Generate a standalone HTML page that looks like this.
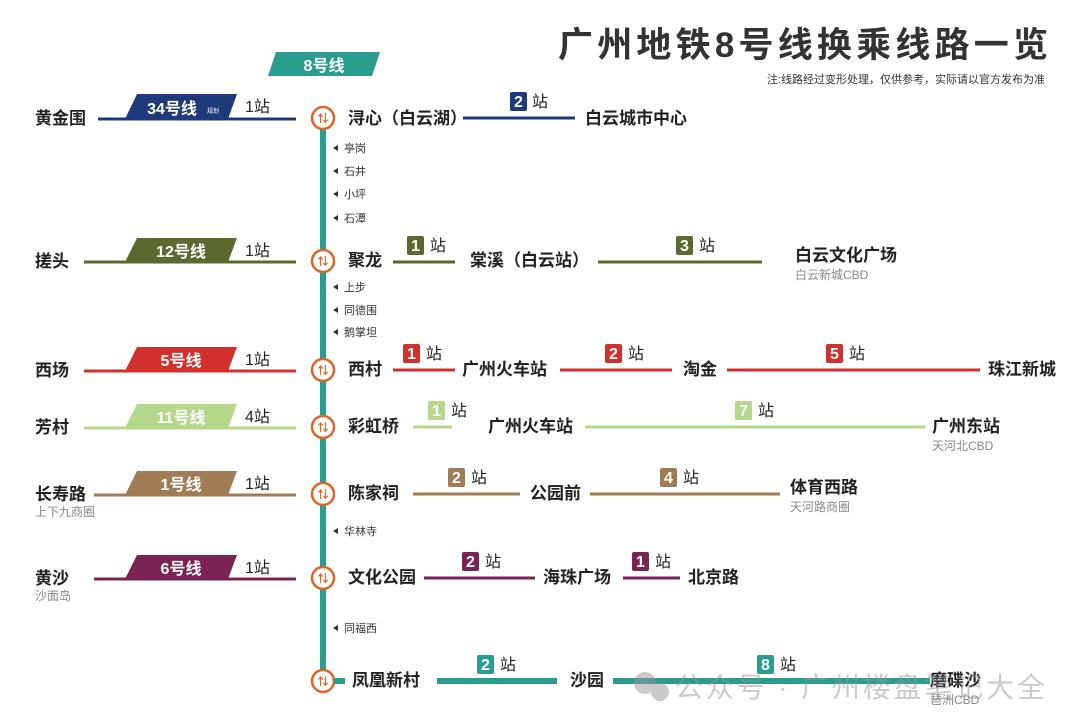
<!DOCTYPE html>
<html><head><meta charset="utf-8"><style>
html,body{margin:0;padding:0;background:#fff;}
svg{display:block;font-family:"Liberation Sans","Noto Sans CJK SC",sans-serif;}
.n{font-size:17px;font-weight:bold;fill:#222;}
.s{font-size:12px;fill:#888;}
.m{font-size:11px;fill:#333;}
.z{font-size:16px;fill:#222;}
.b{font-size:16px;font-weight:bold;fill:#fff;}
</style></head><body>
<svg width="1080" height="728" viewBox="0 0 1080 728" xmlns="http://www.w3.org/2000/svg">
<rect width="1080" height="728" fill="#fff"/>
<text x="558" y="57" font-size="35" font-weight="bold" fill="#333" textLength="490" lengthAdjust="spacing">广州地铁8号线换乘线路一览</text>
<text x="1045" y="83" font-size="11" fill="#333" text-anchor="end">注:线路经过变形处理，仅供参考，实际请以官方发布为准</text>
<polygon points="276,52 380,52 372,76 268,76" fill="#2a9d8f"/>
<text x="324" y="71" class="b" text-anchor="middle">8号线</text>
<rect x="320" y="120" width="6" height="560" fill="#2a9d8f"/>
<g class="m">
<path d="M338,145 l-5,3 l5,3z" fill="#333"/><text x="344" y="152">亭岗</text>
<path d="M338,168 l-5,3 l5,3z" fill="#333"/><text x="344" y="175">石井</text>
<path d="M338,191 l-5,3 l5,3z" fill="#333"/><text x="344" y="198">小坪</text>
<path d="M338,215 l-5,3 l5,3z" fill="#333"/><text x="344" y="222">石潭</text>
<path d="M338,284 l-5,3 l5,3z" fill="#333"/><text x="344" y="291">上步</text>
<path d="M338,307 l-5,3 l5,3z" fill="#333"/><text x="344" y="314">同德围</text>
<path d="M338,329 l-5,3 l5,3z" fill="#333"/><text x="344" y="336">鹅掌坦</text>
<path d="M338,528 l-5,3 l5,3z" fill="#333"/><text x="344" y="535">华林寺</text>
<path d="M338,625 l-5,3 l5,3z" fill="#333"/><text x="344" y="632">同福西</text>
</g>
<g>
<text x="35" y="124" class="n">黄金围</text>
<line x1="98" y1="119" x2="296" y2="119" stroke="#1f3a7a" stroke-width="3"/>
<polygon points="137,94 237,94 228,119 125,119" fill="#1f3a7a"/>
<text x="172" y="114" class="b" text-anchor="middle">34号线</text>
<text x="207" y="113" font-size="6" fill="#fff">规划</text>
<text x="245" y="112" class="z">1站</text>

<text x="35" y="267" class="n">搓头</text>
<line x1="84" y1="262" x2="296" y2="262" stroke="#5a6a2e" stroke-width="3"/>
<polygon points="137,238 237,238 228,262 125,262" fill="#5a6a2e"/>
<text x="181" y="257" class="b" text-anchor="middle">12号线</text>
<text x="245" y="256" class="z">1站</text>

<text x="35" y="376" class="n">西场</text>
<line x1="84" y1="371" x2="296" y2="371" stroke="#d0312d" stroke-width="3"/>
<polygon points="137,347 237,347 228,371 125,371" fill="#d0312d"/>
<text x="181" y="366" class="b" text-anchor="middle">5号线</text>
<text x="245" y="365" class="z">1站</text>

<text x="35" y="433" class="n">芳村</text>
<line x1="84" y1="428" x2="296" y2="428" stroke="#b5d88a" stroke-width="3"/>
<polygon points="137,404 237,404 228,428 125,428" fill="#b5d88a"/>
<text x="181" y="423" class="b" text-anchor="middle">11号线</text>
<text x="245" y="422" class="z">4站</text>

<text x="35" y="500" class="n">长寿路</text>
<text x="35" y="516" class="s">上下九商圈</text>
<line x1="94" y1="495" x2="296" y2="495" stroke="#a07c55" stroke-width="3"/>
<polygon points="137,471 237,471 228,495 125,495" fill="#a07c55"/>
<text x="181" y="490" class="b" text-anchor="middle">1号线</text>
<text x="245" y="489" class="z">1站</text>

<text x="35" y="584" class="n">黄沙</text>
<text x="35" y="600" class="s">沙面岛</text>
<line x1="94" y1="579" x2="296" y2="579" stroke="#7b2352" stroke-width="3"/>
<polygon points="137,555 237,555 228,579 125,579" fill="#7b2352"/>
<text x="181" y="574" class="b" text-anchor="middle">6号线</text>
<text x="245" y="573" class="z">1站</text>
</g>
<g fill="#fff" stroke="#d9662a" stroke-width="2.5">
<circle cx="323" cy="118" r="11"/><circle cx="323" cy="261" r="11"/><circle cx="323" cy="370" r="11"/>
<circle cx="323" cy="427" r="11"/><circle cx="323" cy="494" r="11"/><circle cx="323" cy="578" r="11"/><circle cx="323" cy="681" r="11"/>
</g>
<g fill="#d9662a" font-size="11" font-weight="bold" text-anchor="middle">
<text x="323" y="122">⇅</text><text x="323" y="265">⇅</text><text x="323" y="374">⇅</text><text x="323" y="431">⇅</text><text x="323" y="498">⇅</text><text x="323" y="582">⇅</text><text x="323" y="685">⇅</text>
</g>
<g>
<text x="348" y="124" class="n">浔心（白云湖）</text>
<line x1="463" y1="118" x2="575" y2="118" stroke="#1f3a7a" stroke-width="3"/>
<rect x="510" y="92" width="17" height="19" rx="2" fill="#1f3a7a"/><text x="518.5" y="107" class="b" text-anchor="middle">2</text><text x="532" y="107" class="z">站</text>
<text x="585" y="124" class="n">白云城市中心</text>

<text x="348" y="266" class="n">聚龙</text>
<line x1="393" y1="262" x2="455" y2="262" stroke="#5a6a2e" stroke-width="3"/>
<rect x="407" y="236" width="17" height="19" rx="2" fill="#5a6a2e"/><text x="415.5" y="251" class="b" text-anchor="middle">1</text><text x="430" y="251" class="z">站</text>
<text x="470" y="266" class="n">棠溪（白云站）</text>
<line x1="598" y1="262" x2="762" y2="262" stroke="#5a6a2e" stroke-width="3"/>
<rect x="676" y="236" width="17" height="19" rx="2" fill="#5a6a2e"/><text x="684.5" y="251" class="b" text-anchor="middle">3</text><text x="699" y="251" class="z">站</text>
<text x="795" y="261" class="n">白云文化广场</text>
<text x="795" y="279" class="s">白云新城CBD</text>

<text x="348" y="375" class="n">西村</text>
<line x1="393" y1="370" x2="455" y2="370" stroke="#d0312d" stroke-width="3"/>
<rect x="403" y="344" width="17" height="19" rx="2" fill="#d0312d"/><text x="411.5" y="359" class="b" text-anchor="middle">1</text><text x="426" y="359" class="z">站</text>
<text x="462" y="375" class="n">广州火车站</text>
<line x1="560" y1="370" x2="672" y2="370" stroke="#d0312d" stroke-width="3"/>
<rect x="605" y="344" width="17" height="19" rx="2" fill="#d0312d"/><text x="613.5" y="359" class="b" text-anchor="middle">2</text><text x="628" y="359" class="z">站</text>
<text x="683" y="375" class="n">淘金</text>
<line x1="727" y1="370" x2="980" y2="370" stroke="#d0312d" stroke-width="3"/>
<rect x="826" y="344" width="17" height="19" rx="2" fill="#d0312d"/><text x="834.5" y="359" class="b" text-anchor="middle">5</text><text x="849" y="359" class="z">站</text>
<text x="988" y="375" class="n">珠江新城</text>

<text x="348" y="432" class="n">彩虹桥</text>
<line x1="413" y1="427" x2="452" y2="427" stroke="#b5d88a" stroke-width="3"/>
<rect x="428" y="401" width="17" height="19" rx="2" fill="#b5d88a"/><text x="436.5" y="416" class="b" text-anchor="middle">1</text><text x="451" y="416" class="z">站</text>
<text x="488" y="432" class="n">广州火车站</text>
<line x1="585" y1="427" x2="925" y2="427" stroke="#b5d88a" stroke-width="3"/>
<rect x="735" y="401" width="17" height="19" rx="2" fill="#b5d88a"/><text x="743.5" y="416" class="b" text-anchor="middle">7</text><text x="758" y="416" class="z">站</text>
<text x="932" y="432" class="n">广州东站</text>
<text x="932" y="450" class="s">天河北CBD</text>

<text x="348" y="499" class="n">陈家祠</text>
<line x1="413" y1="494" x2="520" y2="494" stroke="#a07c55" stroke-width="3"/>
<rect x="448" y="468" width="17" height="19" rx="2" fill="#a07c55"/><text x="456.5" y="483" class="b" text-anchor="middle">2</text><text x="471" y="483" class="z">站</text>
<text x="530" y="499" class="n">公园前</text>
<line x1="590" y1="494" x2="780" y2="494" stroke="#a07c55" stroke-width="3"/>
<rect x="660" y="468" width="17" height="19" rx="2" fill="#a07c55"/><text x="668.5" y="483" class="b" text-anchor="middle">4</text><text x="683" y="483" class="z">站</text>
<text x="790" y="493" class="n">体育西路</text>
<text x="790" y="511" class="s">天河路商圈</text>

<text x="348" y="583" class="n">文化公园</text>
<line x1="424" y1="578" x2="535" y2="578" stroke="#7b2352" stroke-width="3"/>
<rect x="462" y="552" width="17" height="19" rx="2" fill="#7b2352"/><text x="470.5" y="567" class="b" text-anchor="middle">2</text><text x="485" y="567" class="z">站</text>
<text x="543" y="583" class="n">海珠广场</text>
<line x1="623" y1="578" x2="680" y2="578" stroke="#7b2352" stroke-width="3"/>
<rect x="632" y="552" width="17" height="19" rx="2" fill="#7b2352"/><text x="640.5" y="567" class="b" text-anchor="middle">1</text><text x="655" y="567" class="z">站</text>
<text x="688" y="583" class="n">北京路</text>

<line x1="334" y1="681" x2="345" y2="681" stroke="#2a9d8f" stroke-width="6"/>
<text x="352" y="686" class="n">凤凰新村</text>
<line x1="437" y1="681" x2="557" y2="681" stroke="#2a9d8f" stroke-width="6"/>
<rect x="477" y="655" width="17" height="19" rx="2" fill="#2a9d8f"/><text x="485.5" y="670" class="b" text-anchor="middle">2</text><text x="500" y="670" class="z">站</text>
<text x="570" y="686" class="n">沙园</text>
<line x1="613" y1="681" x2="930" y2="681" stroke="#2a9d8f" stroke-width="6"/>
<rect x="757" y="655" width="17" height="19" rx="2" fill="#2a9d8f"/><text x="765.5" y="670" class="b" text-anchor="middle">8</text><text x="780" y="670" class="z">站</text>
<text x="930" y="686" class="n">磨碟沙</text>
<text x="930" y="704" class="s">琶洲CBD</text>
</g>
<g opacity="0.5">
<circle cx="645" cy="683" r="11" fill="#999"/><circle cx="660" cy="692" r="9" fill="#999"/>
<text x="675" y="697" font-size="28" fill="#999" textLength="370" lengthAdjust="spacing">公众号 · 广州楼盘笔记大全</text>
</g>
</svg>
</body></html>
